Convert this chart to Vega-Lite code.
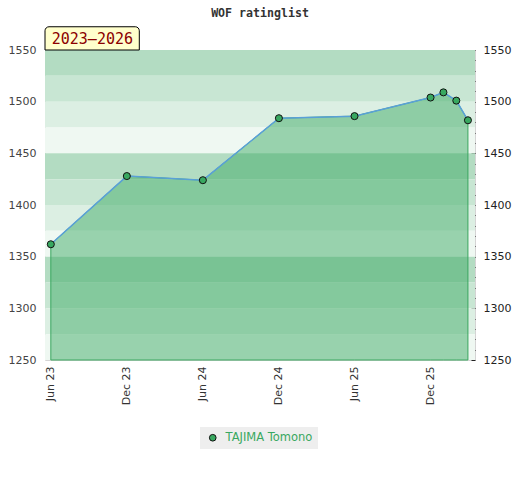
{
  "$schema": "https://vega.github.io/schema/vega-lite/v6.json",
  "width": 430,
  "height": 310,
  "autosize": "none",
  "padding": {"left": 45, "top": 50, "right": 45, "bottom": 120},
  "background": "white",
  "title": {
    "text": "WOF ratinglist",
    "font": "DejaVu Sans Mono",
    "fontSize": 11.6,
    "fontWeight": "bold",
    "color": "#333333",
    "anchor": "middle",
    "frame": "group",
    "offset": 7
  },
  "datasets": {
    "ratings": [
      {"date": "2023-06-01T00:00:00", "rating": 1362, "player": "TAJIMA Tomono"},
      {"date": "2023-12-01T00:00:00", "rating": 1428, "player": "TAJIMA Tomono"},
      {"date": "2024-06-01T00:00:00", "rating": 1424, "player": "TAJIMA Tomono"},
      {"date": "2024-12-01T00:00:00", "rating": 1484, "player": "TAJIMA Tomono"},
      {"date": "2025-06-01T00:00:00", "rating": 1486, "player": "TAJIMA Tomono"},
      {"date": "2025-12-01T00:00:00", "rating": 1504, "player": "TAJIMA Tomono"},
      {"date": "2026-01-01T00:00:00", "rating": 1509, "player": "TAJIMA Tomono"},
      {"date": "2026-02-01T00:00:00", "rating": 1501, "player": "TAJIMA Tomono"},
      {"date": "2026-03-01T00:00:00", "rating": 1482, "player": "TAJIMA Tomono"}
    ],
    "bands": [
      {"lo": 1525, "hi": 1550, "tier": 1},
      {"lo": 1500, "hi": 1525, "tier": 2},
      {"lo": 1475, "hi": 1500, "tier": 3},
      {"lo": 1450, "hi": 1475, "tier": 4},
      {"lo": 1425, "hi": 1450, "tier": 1},
      {"lo": 1400, "hi": 1425, "tier": 2},
      {"lo": 1375, "hi": 1400, "tier": 3},
      {"lo": 1350, "hi": 1375, "tier": 4},
      {"lo": 1325, "hi": 1350, "tier": 1},
      {"lo": 1300, "hi": 1325, "tier": 2},
      {"lo": 1275, "hi": 1300, "tier": 3},
      {"lo": 1250, "hi": 1275, "tier": 4}
    ],
    "badge": [
      {"label": "2023–2026"}
    ]
  },
  "layer": [
    {
      "data": {"name": "bands"},
      "mark": {"type": "rect"},
      "encoding": {
        "y": {
          "field": "hi",
          "type": "quantitative",
          "scale": {"domain": [1250, 1550], "zero": false, "nice": false},
          "axis": {
            "orient": "left",
            "values": [1250, 1300, 1350, 1400, 1450, 1500, 1550],
            "format": "d",
            "title": null,
            "grid": false,
            "ticks": false,
            "domain": false,
            "labelPadding": 9,
            "labelColor": "#444444"
          }
        },
        "y2": {"field": "lo"},
        "fill": {
          "field": "tier",
          "type": "ordinal",
          "scale": {"range": ["#b3dcc2", "#c8e6d3", "#dcefe3", "#eff8f2"]},
          "legend": null
        }
      }
    },
    {
      "data": {"name": "ratings"},
      "mark": {"type": "area", "color": "#37a75f", "fillOpacity": 0.47, "stroke": "#3aa65f", "strokeWidth": 1},
      "encoding": {
        "x": {
          "field": "date",
          "type": "temporal",
          "scale": {
            "domain": [
              {"year": 2023, "month": "may", "date": 18},
              {"year": 2026, "month": "mar", "date": 18}
            ]
          },
          "axis": {
            "values": [
              {"year": 2023, "month": "jun", "date": 1},
              {"year": 2023, "month": "dec", "date": 1},
              {"year": 2024, "month": "jun", "date": 1},
              {"year": 2024, "month": "dec", "date": 1},
              {"year": 2025, "month": "jun", "date": 1},
              {"year": 2025, "month": "dec", "date": 1}
            ],
            "format": "%b %y",
            "labelAngle": -90,
            "title": null,
            "grid": false,
            "ticks": false,
            "domain": false,
            "labelPadding": 6,
            "labelColor": "#333333"
          }
        },
        "y": {
          "field": "rating",
          "type": "quantitative",
          "axis": {
            "orient": "right",
            "values": [1250, 1260, 1270, 1280, 1290, 1300, 1310, 1320, 1330, 1340, 1350, 1360, 1370, 1380, 1390, 1400, 1410, 1420, 1430, 1440, 1450, 1460, 1470, 1480, 1490, 1500, 1510, 1520, 1530, 1540, 1550],
            "labelExpr": "datum.value % 50 === 0 ? format(datum.value, 'd') : ''",
            "title": null,
            "grid": false,
            "domain": false,
            "ticks": true,
            "tickSize": 4,
            "tickWidth": 1,
            "tickColor": "#222222",
            "offset": -4,
            "labelPadding": 8,
            "labelColor": "#222222"
          }
        },
        "y2": {"datum": 1250}
      }
    },
    {
      "data": {"name": "ratings"},
      "mark": {"type": "line", "color": "#5aa0d8", "strokeWidth": 1.5},
      "encoding": {
        "x": {"field": "date", "type": "temporal"},
        "y": {"field": "rating", "type": "quantitative", "axis": null}
      }
    },
    {
      "data": {"name": "ratings"},
      "mark": {"type": "point", "filled": true, "size": 50, "stroke": "#111111", "strokeWidth": 1, "opacity": 1},
      "encoding": {
        "x": {"field": "date", "type": "temporal"},
        "y": {"field": "rating", "type": "quantitative", "axis": null},
        "color": {
          "field": "player",
          "type": "nominal",
          "scale": {"range": ["#38a860"]},
          "legend": {
            "title": null,
            "orient": "none",
            "legendX": 155,
            "legendY": 377,
            "direction": "horizontal",
            "symbolType": "circle",
            "symbolStrokeColor": "#111111",
            "symbolStrokeWidth": 1,
            "symbolSize": 45,
            "symbolOffset": 2,
            "labelOffset": 7,
            "labelColor": "#38a860",
            "labelFont": "DejaVu Sans",
            "labelFontSize": 11.5,
            "fillColor": "#eeeeee",
            "padding": 5
          }
        }
      }
    },
    {
      "data": {"name": "badge"},
      "mark": {"type": "rect", "fill": "#ffffcc", "stroke": "#000000", "strokeWidth": 1, "cornerRadiusTopLeft": 4, "cornerRadiusTopRight": 4},
      "encoding": {
        "x": {"datum": {"year": 2023, "month": "may", "date": 18}, "type": "temporal"},
        "x2": {"datum": {"year": 2023, "month": "dec", "date": 31}},
        "y": {"datum": 1572.5, "type": "quantitative", "axis": null},
        "y2": {"datum": 1550}
      }
    },
    {
      "data": {"name": "badge"},
      "mark": {"type": "text", "font": "DejaVu Sans Mono", "fontSize": 15, "color": "#8b0000", "align": "center", "baseline": "middle"},
      "encoding": {
        "x": {"datum": {"year": 2023, "month": "sep", "date": 9}, "type": "temporal"},
        "y": {"datum": 1561, "type": "quantitative", "axis": null},
        "text": {"field": "label"}
      }
    }
  ],
  "resolve": {"axis": {"y": "independent"}},
  "config": {
    "view": {"stroke": "#d4d4d4", "strokeWidth": 1},
    "axis": {"labelFont": "DejaVu Sans", "labelFontSize": 11}
  }
}
